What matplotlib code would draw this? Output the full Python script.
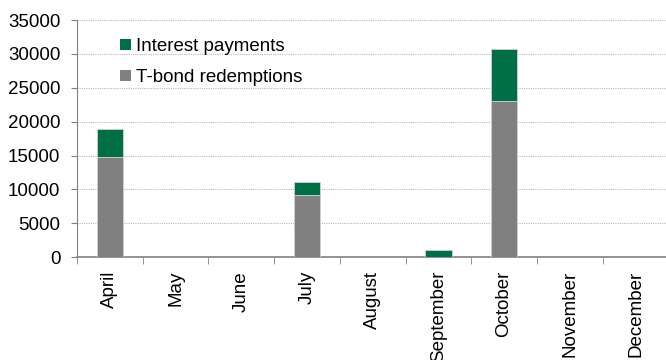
import numpy as np
import matplotlib.pyplot as plt
from matplotlib.patches import Patch

plt.rcParams['font.family'] = ['Liberation Sans', 'DejaVu Sans']

months = ["April", "May", "June", "July", "August", "September",
          "October", "November", "December"]
redemptions = [14800, 0, 0, 9100, 0, 0, 23000, 0, 0]
interest = [4050, 0, 0, 2000, 0, 1000, 7750, 0, 0]

green = "#006f46"
grey = "#808080"

fig = plt.figure(figsize=(6.66, 3.6), dpi=100)
ax = fig.add_axes([0.1156, 0.286, 0.888, 0.658])

x = np.arange(len(months))
ax.bar(x, redemptions, width=0.4, color=grey, edgecolor="#d0d0d0", linewidth=0.6, zorder=3)
ax.bar(x, interest, width=0.4, bottom=redemptions, color=green, edgecolor="#d0d0d0",
       linewidth=0.6, zorder=3)

ax.set_xlim(-0.5, len(months) - 0.5)
ax.set_ylim(0, 35000)
ax.set_yticks(np.arange(0, 35001, 5000))
ax.tick_params(axis="y", labelsize=13.5, length=4, color="#808080", pad=8)
ax.yaxis.grid(True, linestyle=(0, (1, 1)), color="#b8b8b8", linewidth=0.8, zorder=0)

ax.set_xticks(x)
ax.set_xticklabels(months, rotation=90, fontsize=13.5, va="top")
ax.tick_params(axis="x", length=0, pad=10)
ax.set_xticks(np.arange(-0.5, len(months), 1), minor=True)
ax.tick_params(axis="x", which="minor", length=5, color="#808080")

for s in ["top", "right"]:
    ax.spines[s].set_visible(False)
ax.spines["left"].set_color("#808080")
ax.spines["bottom"].set_color("#808080")
ax.spines["bottom"].set_linewidth(1.2)

handles = [Patch(facecolor=green, label="Interest payments"),
           Patch(facecolor=grey, label="T-bond redemptions")]
ax.legend(handles=handles, loc="upper left", bbox_to_anchor=(0.045, 0.995), frameon=False,
          fontsize=13.5, handlelength=0.55, handleheight=0.55, handletextpad=0.3,
          labelspacing=0.75)

fig.savefig("out.png", dpi=100)
